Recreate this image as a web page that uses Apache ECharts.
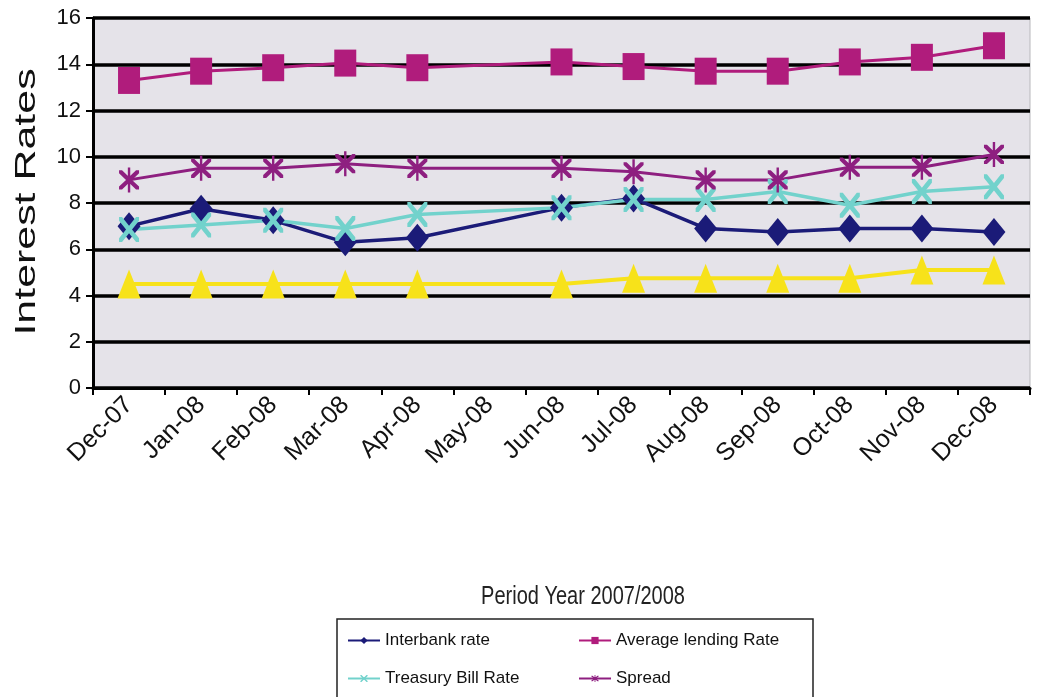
<!DOCTYPE html>
<html>
<head>
<meta charset="utf-8">
<script src="https://cdn.jsdelivr.net/npm/echarts@6/dist/echarts.min.js"></script>
<style>html,body{margin:0;padding:0;background:#fff;}#c{width:1042px;height:697px;}</style>
</head>
<body>
<div id="c"></div>
<script>
const categories = ['Dec-07','Jan-08','Feb-08','Mar-08','Apr-08','May-08','Jun-08','Jul-08','Aug-08','Sep-08','Oct-08','Nov-08','Dec-08'];
const interbankRate = [7.0, 7.75, 7.25, 6.3, 6.5, null, 7.8, 8.2, 6.9, 6.75, 6.9, 6.9, 6.75];
const averageLendingRate = [13.3, 13.7, 13.85, 14.05, 13.85, null, 14.1, 13.9, 13.7, 13.7, 14.1, 14.3, 14.8];
const treasuryBillRate = [6.85, 7.05, 7.25, 6.9, 7.5, null, 7.8, 8.15, 8.15, 8.5, 7.9, 8.5, 8.7];
const spread = [9.0, 9.5, 9.5, 9.7, 9.5, null, 9.5, 9.35, 9.0, 9.0, 9.55, 9.55, 10.1];
const averageDepositRate = [4.5, 4.5, 4.5, 4.5, 4.5, null, 4.5, 4.75, 4.75, 4.75, 4.75, 5.1, 5.1];
const yTicks = [0, 2, 4, 6, 8, 10, 12, 14, 16];
const yAxisTitle = 'Interest Rates';
const xAxisTitle = 'Period Year 2007/2008';

const xPath = 'path://M0,0 L3,0 L10,7 L17,0 L20,0 L20,3 L13,10 L20,17 L20,20 L17,20 L10,13 L3,20 L0,20 L0,17 L7,10 L0,3 Z';
const starPath = 'path://M0,0 L3,0 L10,7 L17,0 L20,0 L20,3 L13,10 L20,17 L20,20 L17,20 L10,13 L3,20 L0,20 L0,17 L7,10 L0,3 Z M8.8,-3 L11.2,-3 L11.2,23 L8.8,23 Z';

const chart = echarts.init(document.getElementById('c'));
const base = '"Liberation Sans", Arial, sans-serif';

function mk(name, data, color, symbol, size, width) {
  return {
    name, type: 'line', data, connectNulls: true,
    symbol, symbolSize: size, showSymbol: true,
    lineStyle: { color, width },
    itemStyle: { color },
    emphasis: { disabled: true },
    animation: false
  };
}

const legendText = { fontFamily: base, fontSize: 17, color: '#111' };
function lg(name, left, top) {
  return { data: [name], left, top, itemWidth: 32, itemHeight: 9, itemGap: 6,
           textStyle: legendText, selectedMode: false, padding: 0 };
}

chart.setOption({
  animation: false,
  grid: {
    left: 93, right: 12, top: 18, bottom: 309, show: true,
    backgroundColor: '#e5e3e9', borderColor: '#b8b8bc', borderWidth: 1
  },
  xAxis: {
    type: 'category', data: categories, boundaryGap: true,
    axisLine: { lineStyle: { color: '#000', width: 3 } },
    axisTick: { show: true, length: 7, lineStyle: { color: '#000', width: 2 } },
    axisLabel: { rotate: 45, fontFamily: base, fontSize: 25, color: '#111', margin: 13, interval: 0 },
    splitLine: { show: false }
  },
  yAxis: {
    type: 'value', min: yTicks[0], max: yTicks[yTicks.length - 1], interval: 2,
    axisLine: { show: true, lineStyle: { color: '#000', width: 3 } },
    axisTick: { show: true, length: 7, lineStyle: { color: '#000', width: 2 } },
    axisLabel: { fontFamily: base, fontSize: 22, color: '#111', margin: 12 },
    splitLine: { show: true, lineStyle: { color: '#000', width: 3.5 } }
  },
  legend: [
    lg('Interbank rate', 347, 632),
    lg('Treasury Bill Rate', 347, 670),
    lg('Average lending Rate', 578, 632),
    lg('Spread', 578, 670)
  ],
  graphic: [
    { type: 'rect', shape: { x: 337, y: 619, width: 476, height: 110 },
      style: { fill: 'none', stroke: '#222', lineWidth: 1.5 }, silent: true },
    { type: 'text', x: 27, y: 202, rotation: Math.PI / 2, scaleX: 1.48, silent: true,
      style: { text: yAxisTitle, fontFamily: base, fontSize: 29, fill: '#111',
               align: 'center', verticalAlign: 'middle' } },
    { type: 'text', x: 583, y: 597, scaleX: 0.8, silent: true,
      style: { text: xAxisTitle, fontFamily: base, fontSize: 25, fill: '#222',
               align: 'center', verticalAlign: 'middle' } }
  ],
  series: [
    mk('Interbank rate', interbankRate, '#1b1b78', 'diamond', [23, 28], 3.5),
    mk('Average lending Rate', averageLendingRate, '#b01c7c', 'rect', [22, 27], 3),
    mk('Treasury Bill Rate', treasuryBillRate, '#72d2cc', xPath, [20, 25], 3.5),
    mk('Spread', spread, '#8e1f80', starPath, [20, 25], 3),
    mk('Average deposit Rate', averageDepositRate, '#f7e21a', 'triangle', [23, 29], 4)
  ]
});
</script>
</body>
</html>
